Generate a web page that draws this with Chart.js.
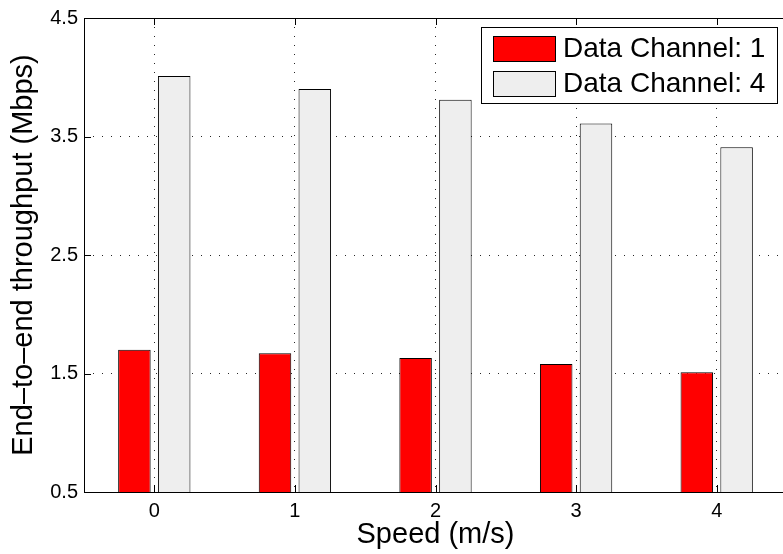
<!DOCTYPE html>
<html>
<head>
<meta charset="utf-8">
<title>End-to-end throughput vs speed</title>
<script src="https://cdn.jsdelivr.net/npm/chart.js@4/dist/chart.umd.min.js"></script>
<style>
  html, body { margin: 0; padding: 0; background: #fff; }
  #wrap { width: 783px; height: 554px; overflow: hidden; position: relative; }
  canvas { display: block; }
</style>
</head>
<body>
<div id="wrap"><canvas id="c" width="790" height="554"></canvas></div>
<script>
// Speeds (m/s) on the x axis
const speeds = ['0', '1', '2', '3', '4'];

// End-to-end throughput (Mbps) per speed
const channel1 = [1.70, 1.67, 1.63, 1.58, 1.51];
const channel4 = [4.01, 3.90, 3.81, 3.61, 3.41];

const seriesNames = ['Data Channel: 1', 'Data Channel: 4'];

// Y axis ticks
const yTickValues = [0.5, 1.5, 2.5, 3.5, 4.5];
const yTickLabels = ['0.5', '1.5', '2.5', '3.5', '4.5'];

const FONT = '"Liberation Sans", Arial, Helvetica, sans-serif';
Chart.defaults.font.family = FONT;
Chart.defaults.color = '#000';

// Axes box (left, top, bottom edges)
const framePlugin = {
  id: 'frame',
  beforeDatasetsDraw(chart) {
    const { ctx, chartArea: a } = chart;
    ctx.save();
    ctx.strokeStyle = '#000';
    ctx.lineWidth = 1;
    ctx.beginPath();
    ctx.moveTo(a.left + 0.5, a.top + 0.5);
    ctx.lineTo(a.left + 0.5, a.bottom + 0.5);
    ctx.moveTo(a.left, a.top + 0.5);
    ctx.lineTo(a.right, a.top + 0.5);
    ctx.moveTo(a.left, a.bottom + 0.5);
    ctx.lineTo(a.right, a.bottom + 0.5);
    ctx.stroke();
    ctx.restore();
  },
  // Inward tick marks
  afterDatasetsDraw(chart) {
    const { ctx, chartArea: a, scales } = chart;
    const len = 7;
    ctx.save();
    ctx.strokeStyle = '#000';
    ctx.lineWidth = 1;
    ctx.beginPath();
    scales.x.ticks.forEach((t, i) => {
      const x = Math.round(scales.x.getPixelForTick(i)) + 0.5;
      ctx.moveTo(x, a.bottom);
      ctx.lineTo(x, a.bottom - len);
      ctx.moveTo(x, a.top);
      ctx.lineTo(x, a.top + len);
    });
    scales.y.ticks.forEach(t => {
      const y = Math.round(scales.y.getPixelForValue(t.value)) + 0.5;
      ctx.moveTo(a.left, y);
      ctx.lineTo(a.left + len, y);
    });
    ctx.stroke();
    ctx.restore();
  }
};

// Boxed legend in the upper right of the plot
const boxLegendPlugin = {
  id: 'boxLegend',
  afterDraw(chart) {
    const { ctx } = chart;
    const bx = 481.5, by = 27.5, bw = 296, bh = 76;
    ctx.save();
    ctx.fillStyle = '#fff';
    ctx.fillRect(bx, by, bw, bh);
    ctx.strokeStyle = '#000';
    ctx.lineWidth = 1;
    ctx.strokeRect(bx, by, bw, bh);
    ctx.font = '28px ' + FONT;
    ctx.textBaseline = 'middle';
    ctx.textAlign = 'left';
    chart.data.datasets.forEach((ds, i) => {
      const cy = 48 + i * 35.5;
      ctx.fillStyle = ds.backgroundColor;
      ctx.fillRect(493.5, Math.round(cy - 12.5) + 0.5, 62, 25);
      ctx.strokeStyle = '#000';
      ctx.strokeRect(493.5, Math.round(cy - 12.5) + 0.5, 62, 25);
      ctx.fillStyle = '#000';
      ctx.fillText(ds.label, 563, cy + 1);
    });
    ctx.restore();
  }
};

const gridStyle = {
  color: 'rgba(0,0,0,0.85)',
  lineWidth: 1,
  drawTicks: false
};

new Chart(document.getElementById('c'), {
  type: 'bar',
  data: {
    labels: speeds,
    datasets: [
      {
        label: seriesNames[0],
        data: channel1,
        backgroundColor: '#ff0000',
        borderColor: '#000',
        borderWidth: 1
      },
      {
        label: seriesNames[1],
        data: channel4,
        backgroundColor: '#eeeeee',
        borderColor: '#000',
        borderWidth: 1
      }
    ]
  },
  options: {
    responsive: false,
    animation: false,
    devicePixelRatio: 1,
    layout: { padding: { left: 0, top: 17, right: 3, bottom: 0 } },
    datasets: {
      bar: { categoryPercentage: 0.566, barPercentage: 0.817 }
    },
    plugins: {
      legend: { display: false },
      tooltip: { enabled: false }
    },
    scales: {
      x: {
        offset: true,
        grid: Object.assign({ offset: false, drawOnChartArea: true }, gridStyle),
        border: { display: false, dash: [1, 8] },
        ticks: { font: { size: 20 }, padding: 7, color: '#000' },
        title: {
          display: true,
          text: 'Speed (m/s)',
          font: { size: 29, lineHeight: 1.2 },
          padding: { top: 0, bottom: 2 },
          color: '#000'
        },
        afterFit(scale) { scale.height = 62; }
      },
      y: {
        min: 0.5,
        max: 4.5,
        grid: gridStyle,
        border: { display: false, dash: [1, 8] },
        afterBuildTicks(scale) {
          scale.ticks = yTickValues.map(v => ({ value: v }));
        },
        ticks: {
          font: { size: 20 },
          padding: 6,
          color: '#000',
          callback(value, index) { return yTickLabels[index]; }
        },
        title: {
          display: true,
          text: 'End\u2013to\u2013end throughput (Mbps)',
          font: { size: 29, lineHeight: 1.2 },
          padding: { top: 7, bottom: 0 },
          color: '#000'
        },
        afterFit(scale) { scale.width = 84; }
      }
    }
  },
  plugins: [framePlugin, boxLegendPlugin]
});
</script>
</body>
</html>
